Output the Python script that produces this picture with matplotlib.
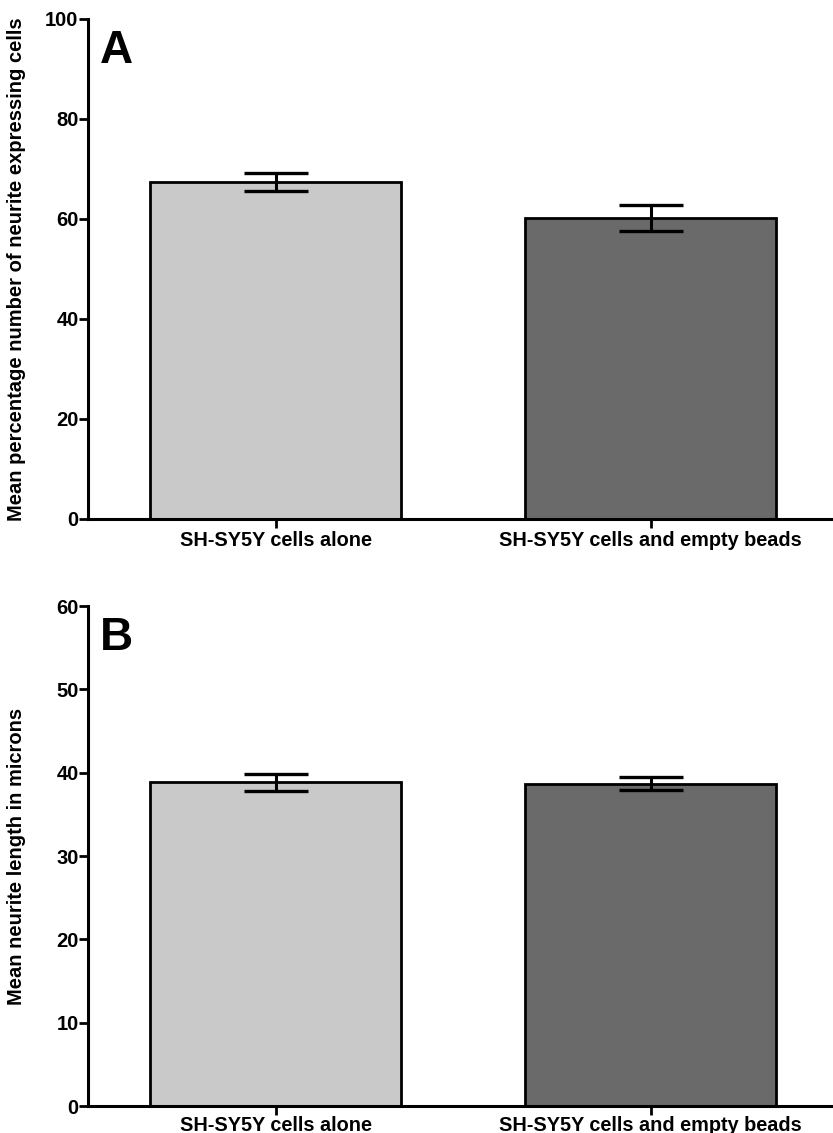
import matplotlib
matplotlib.use('Agg')
import matplotlib.pyplot as plt

groups = ['SH-SY5Y cells alone', 'SH-SY5Y cells and empty beads']
colors = ['#c9c9c9', '#6a6a6a']

pct_mean = [67.4, 60.3]
pct_err = [1.8, 2.6]

len_mean = [38.85, 38.7]
len_err = [1.0, 0.8]

plt.rcParams['font.family'] = ['Liberation Sans', 'DejaVu Sans']

W, H = 833, 1133
fig = plt.figure(figsize=(W / 100, H / 100), dpi=100)


def DrawPanel(rect, means, errs, ymax, ystep, ylabel, letter, xpad):
  ax = fig.add_axes(rect)
  x = range(len(groups))
  ax.bar(x, means, width=0.667, color=colors, edgecolor='black', linewidth=2,
         zorder=2)
  ax.errorbar(x, means, yerr=errs, fmt='none', ecolor='black', elinewidth=2.2,
              capsize=23, capthick=2.4, zorder=3)
  ax.set_xlim(-0.5, 1.5)
  ax.set_ylim(0, ymax)
  ax.set_yticks(range(0, ymax + 1, ystep))
  ax.set_xticks(list(x))
  ax.set_xticklabels(groups, fontweight='bold', fontsize=14.3)
  for lab in ax.get_yticklabels():
    lab.set_fontweight('bold')
    lab.set_fontsize(14.5)
  for s in ['top', 'right']:
    ax.spines[s].set_visible(False)
  for s in ['left', 'bottom']:
    ax.spines[s].set_linewidth(2.2)
  ax.tick_params(axis='both', direction='out', width=2, length=6.5)
  ax.tick_params(axis='y', pad=0.3)
  ax.tick_params(axis='x', pad=xpad)
  ax.set_ylabel(ylabel, fontweight='bold', fontsize=14.5)
  ax.yaxis.set_label_coords(-0.082, 0.5)
  ax.text(0.016, 0.98, letter, transform=ax.transAxes, fontsize=33,
          fontweight='bold', ha='left', va='top')
  return ax


DrawPanel([88 / W, (H - 519) / H, 750 / W, 500 / H], pct_mean, pct_err,
          100, 20, 'Mean percentage number of neurite expressing cells', 'A',
          2.5)
DrawPanel([88 / W, (H - 1106) / H, 750 / W, 500 / H], len_mean, len_err,
          60, 10, 'Mean neurite length in microns', 'B', 0.5)

fig.savefig('out.png', dpi=100)
